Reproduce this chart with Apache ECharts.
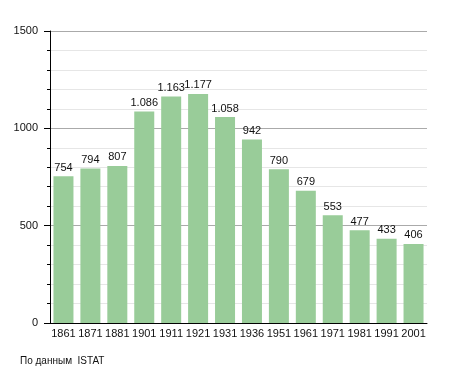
<!DOCTYPE html>
<html><head><meta charset="utf-8">
<script src="https://cdn.jsdelivr.net/npm/echarts@6/dist/echarts.min.js"></script>
<style>html,body{margin:0;padding:0;background:#fff}#c{width:455px;height:373px}</style>
</head><body><div id="c"></div>
<script>
const years = ['1861','1871','1881','1901','1911','1921','1931','1936','1951','1961','1971','1981','1991','2001'];
const population = [754,794,807,1086,1163,1177,1058,942,790,679,553,477,433,406];
const yTicks = [0,500,1000,1500];
const source = 'По данным  ISTAT';

function fmt(v){ return v >= 1000 ? Math.floor(v/1000) + '.' + String(v%1000).padStart(3,'0') : String(v); }

const chart = echarts.init(document.getElementById('c'), null, {renderer:'canvas'});
chart.setOption({
  animation:false,
  textStyle:{fontFamily:'Liberation Sans, Arial, sans-serif'},
  grid:{left:50,right:28,top:31,bottom:50,containLabel:false},
  xAxis:{type:'category',data:years,
    axisLine:{lineStyle:{color:'#000',width:1}},
    axisTick:{show:false},
    axisLabel:{color:'#111',fontSize:11,margin:5,interval:0}},
  yAxis:{type:'value',min:yTicks[0],max:yTicks[yTicks.length-1],interval:500,
    axisLine:{show:true,lineStyle:{color:'#000',width:1}},
    axisTick:{show:true,length:6,lineStyle:{color:'#000'}},
    minorTick:{show:true,splitNumber:5,length:3,lineStyle:{color:'#000'}},
    splitLine:{show:true,lineStyle:{color:'#aaa',width:1}},
    minorSplitLine:{show:true,lineStyle:{color:'#e6e6e6',width:1}},
    axisLabel:{color:'#111',fontSize:11,margin:12,formatter:v=>String(v)}},
  series:[{type:'bar',data:population,barWidth:20,
    itemStyle:{color:'#99cc99'},
    label:{show:true,position:'top',distance:3,color:'#111',fontSize:11,formatter:p=>fmt(p.value)}}],
  graphic:[{type:'text',left:20,top:356,style:{text:source,fontSize:10,fill:'#111',fontFamily:'Liberation Sans, Arial, sans-serif'}}]
});
</script></body></html>
